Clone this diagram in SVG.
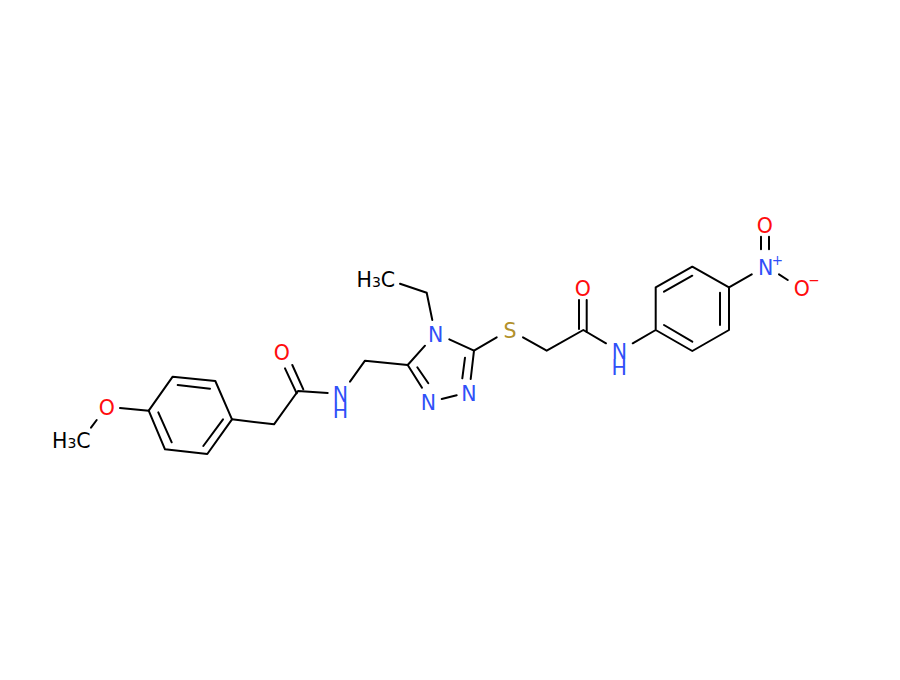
<svg xmlns="http://www.w3.org/2000/svg" width="900" height="680" viewBox="0 0 900 680">
<style>
.b{stroke:#000;stroke-width:2;fill:none;stroke-linecap:round;stroke-linejoin:round}
text{font-family:"DejaVu Sans",sans-serif;font-size:20.5px;text-anchor:middle}
.n{fill:#3050f8}.o{fill:#ff0d0d}.s{fill:#b2912b}.c{fill:#000}
.l{text-anchor:start}
.sm{font-size:14px}
.ch{font-size:13.5px}
</style>
<rect width="900" height="680" fill="#fff"/>
<g id="bonds" class="b">
<path d="M172.7 376.7L215.3 381L232 419.3L207.3 454L165 449.3L148.7 410.7Z"/>
<path d="M177.7 385L210 388.7M223 419.3L203.3 446M158.3 412.3L171.7 442.3"/>
<path d="M120 408L148.7 410.7M96.7 420L91 427.7"/>
<path d="M232 419.3L274 424.3L298 391L327.7 393"/>
<path d="M285 368.3L296.7 393.3M292.3 365L303.3 389.3"/>
<path d="M350 381.7L365 360.7L407.7 365L425 345.7"/>
<path d="M407.7 365L422 387.7M417.3 367.3L428.3 383.3M441.7 399L456.7 395.3"/>
<path d="M474 350.7L470.7 379M465 357.7L462.3 378.3M449.3 339.3L474 350.7L496.7 337.3"/>
<path d="M400 283.7L426.7 292.7L432.3 320"/>
<path d="M523 337.3L546.7 350.7L583.3 330L606 343.3"/>
<path d="M579 300L579 329M586.7 300L586.7 332"/>
<path d="M632.7 343.3L655.7 330L655.7 287.3L692.3 266.7L729 287.3L729 330L692.3 351L655.7 330"/>
<path d="M664 291.7L692.3 275.7M720 292.7L720 325M664 325L692.3 341.7"/>
<path d="M729 287.3L751.7 274.3M761 236.7L761 249.3M769 236.7L769 249.3M779 274.3L787.7 280"/>
</g>
<g id="o-methoxy"><text class="o" x="106.7" y="415">O</text></g>
<g id="ch3-methoxy"><text class="c l" x="52" y="448">H<tspan class="sm">3</tspan>C</text></g>
<g id="o-amide1"><text class="o" x="281.7" y="360">O</text></g>
<g id="nh-amide1"><text class="n" x="340.5" y="402">N<tspan x="340.5" dy="16">H</tspan></text></g>
<g id="n4"><text class="n" x="435.7" y="341.6">N</text></g>
<g id="n1"><text class="n" x="428.3" y="409.6">N</text></g>
<g id="n2"><text class="n" x="469" y="400.6">N</text></g>
<g id="ch3-ethyl"><text class="c l" x="356.5" y="287">H<tspan class="sm">3</tspan>C</text></g>
<g id="s"><text class="s" x="510" y="338">S</text></g>
<g id="o-amide2"><text class="o" x="582.7" y="295.6">O</text></g>
<g id="nh-amide2"><text class="n" x="619.3" y="358.6">N<tspan x="619.3" dy="16">H</tspan></text></g>
<g id="n-nitro"><text class="n" x="765.7" y="274.6">N<tspan class="ch" x="777.3" y="265">+</tspan></text></g>
<g id="o-nitro1"><text class="o" x="764.7" y="232.6">O</text></g>
<g id="o-nitro2"><text class="o" x="801.7" y="295.6">O<tspan class="ch" x="814" y="285">−</tspan></text></g>
</svg>
